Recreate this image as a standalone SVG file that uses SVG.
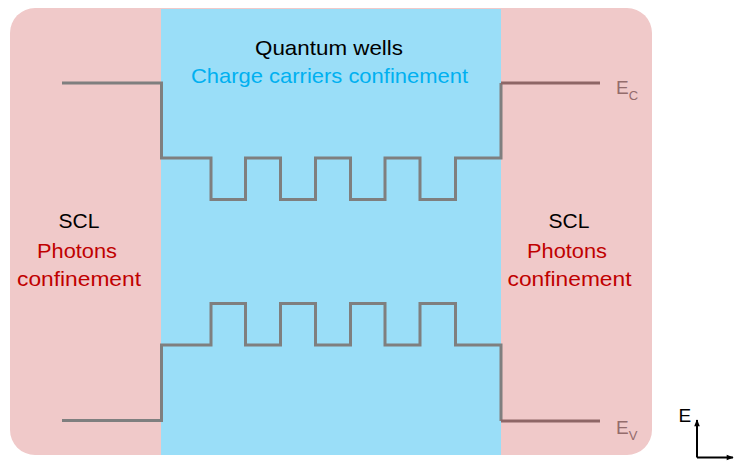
<svg xmlns="http://www.w3.org/2000/svg" width="735" height="471" viewBox="0 0 735 471">
<defs>
<style>
.t{font-family:"Liberation Sans",Arial,sans-serif;font-size:21px;text-anchor:middle}
.blk{fill:#000}
.red{fill:#C00000}
.blu{fill:#00B0F0}
.band{fill:none;stroke:#7f7f7f;stroke-width:3;stroke-linejoin:miter}
.bandr{fill:none;stroke:#8e6666;stroke-width:3}
.lvl{font-family:"Liberation Sans",Arial,sans-serif;fill:#946c6c}
.ax{fill:none;stroke:#000;stroke-width:2}
</style>
<marker id="ah" viewBox="0 0 10 10" refX="9" refY="5" markerWidth="8" markerHeight="7" orient="auto-start-reverse" markerUnits="userSpaceOnUse">
<path d="M0,1 L10,5 L0,9 z" fill="#000"/>
</marker>
</defs>
<rect width="735" height="471" fill="#fff"/>
<g id="scl-region">
<rect x="10" y="8" width="642" height="447" rx="25" ry="25" fill="#F0C9C9"/>
</g>
<g id="qw-region">
<rect x="161" y="9" width="340" height="446" fill="#9ADEF8"/>
</g>
<g id="connectors">
<path class="band" d="M62,83 H161.5 V158 H211 V199.5 H245.5 V158 H280.5 V199.5 H315.5 V158 H350.5 V199.5 H385 V158 H420 V199.5 H455.5 V158 H501 V83"/>
<path class="bandr" d="M501,83 H600"/>
<path class="band" d="M62,420.5 H161.5 V345 H211 V303.5 H245.5 V345 H280.5 V303.5 H315.5 V345 H350.5 V303.5 H385 V345 H420 V303.5 H455.5 V345 H501 V421"/>
<path class="bandr" d="M501,421 H600"/>
</g>
<g id="qw-label">
<text class="t blk" x="329" y="55" textLength="148" lengthAdjust="spacingAndGlyphs">Quantum wells</text>
<text class="t blu" x="329.5" y="83" textLength="277" lengthAdjust="spacingAndGlyphs">Charge carriers confinement</text>
</g>
<g id="scl-left">
<text class="t blk" x="79" y="228">SCL</text>
<text class="t red" x="77" y="258" textLength="80" lengthAdjust="spacingAndGlyphs">Photons</text>
<text class="t red" x="79" y="286" textLength="124" lengthAdjust="spacingAndGlyphs">confinement</text>
</g>
<g id="scl-right">
<text class="t blk" x="569" y="228">SCL</text>
<text class="t red" x="567" y="258" textLength="80" lengthAdjust="spacingAndGlyphs">Photons</text>
<text class="t red" x="569.5" y="286" textLength="124" lengthAdjust="spacingAndGlyphs">confinement</text>
</g>
<g id="ec-label">
<text class="lvl" x="616" y="94" font-size="19">E<tspan font-size="13" dy="6">C</tspan></text>
</g>
<g id="ev-label">
<text class="lvl" x="616" y="434" font-size="19">E<tspan font-size="13" dy="6">V</tspan></text>
</g>
<g id="axes">
<text x="678.5" y="422" font-family="Liberation Sans,Arial,sans-serif" font-size="19" fill="#000">E</text>
<path class="ax" d="M697,457.5 V420" marker-end="url(#ah)"/>
<path class="ax" d="M697,457.5 H733" marker-end="url(#ah)"/>
</g>
</svg>
